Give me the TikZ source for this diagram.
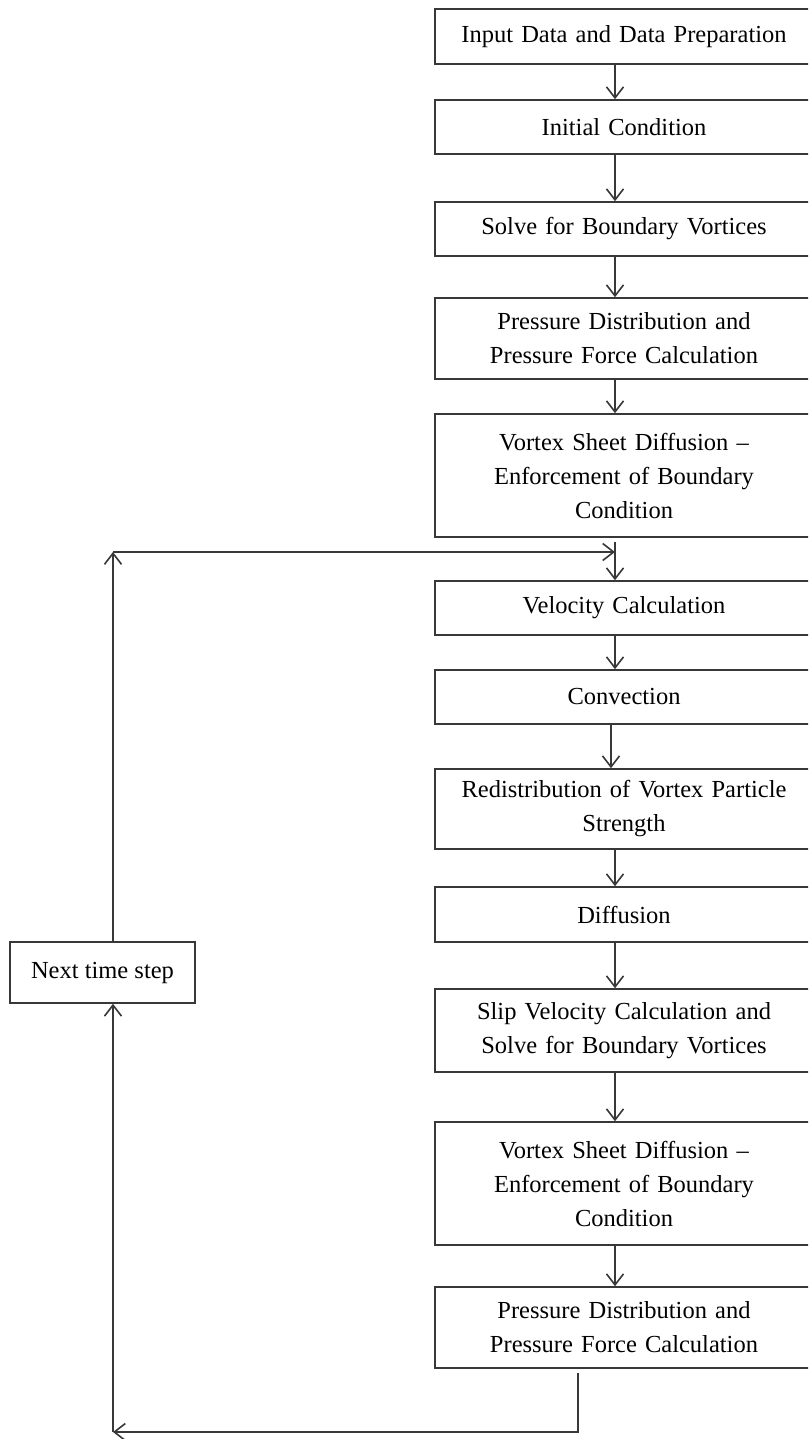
\documentclass[tikz,border=0pt]{standalone}
\usepackage{fontspec}
\setmainfont{Liberation Serif}
\usetikzlibrary{arrows.meta}
\begin{document}
\begin{tikzpicture}[x=1pt,y=-1pt,
  box/.style={draw=black!78, line width=1.6pt, rectangle, inner sep=0pt,
    minimum width=378pt, text width=360pt, align=center,
    font=\fontsize{24.5}{34}\selectfont},
  nbox/.style={draw=black!78, line width=1.6pt, rectangle, inner sep=0pt,
    minimum width=185pt, minimum height=61pt, align=center,
    font=\fontsize{24.5}{34}\selectfont},
  conn/.style={draw=black!78, line width=1.6pt, -{Straight Barb[length=11pt,width=17pt,line width=1.6pt]}},
  plain/.style={draw=black!78, line width=1.6pt}]
\useasboundingbox (0,0) rectangle (808,1439);
\clip (0,0) rectangle (808,1439);
\fill[white] (0,0) rectangle (808,1439);
\node[box, minimum height=55pt] (b1) at (624,36.5) {Input Data and Data Preparation};
\node[box, minimum height=54pt] (b2) at (624,127) {Initial Condition};
\node[box, minimum height=54pt] (b3) at (624,229) {Solve for Boundary Vortices};
\node[box, minimum height=81pt] (b4) at (624,338.5) {Pressure Distribution and\\Pressure Force Calculation};
\node[box, minimum height=123pt] (b5) at (624,475.5) {Vortex Sheet Diffusion --\\Enforcement of Boundary\\Condition};
\node[box, minimum height=54pt] (b6) at (624,608) {Velocity Calculation};
\node[box, minimum height=54pt] (b7) at (624,697) {Convection};
\node[box, minimum height=80pt] (b8) at (624,809) {Redistribution of Vortex Particle\\Strength};
\node[box, minimum height=55pt] (b9) at (624,914.5) {Diffusion};
\node[box, minimum height=83pt] (b10) at (624,1030.5) {Slip Velocity Calculation and\\Solve for Boundary Vortices};
\node[box, minimum height=123pt] (b11) at (624,1183.5) {Vortex Sheet Diffusion --\\Enforcement of Boundary\\Condition};
\node[box, minimum height=81pt] (b12) at (624,1327.5) {Pressure Distribution and\\Pressure Force Calculation};
\node[nbox] (nts) at (102.5,972.5) {Next time step};
\coordinate (loopTop) at (113,552);
\coordinate (loopIn) at (615,552);
\coordinate (loopStart) at (615,542);
\coordinate (outStart) at (578,1373);
\coordinate (loopBot) at (113,1432);
\draw[conn] (b1.south -| 615,0) -- (b2.north -| 615,0);
\draw[conn] (b2.south -| 615,0) -- (b3.north -| 615,0);
\draw[conn] (b3.south -| 615,0) -- (b4.north -| 615,0);
\draw[conn] (b4.south -| 615,0) -- (b5.north -| 615,0);
\draw[conn] (loopStart) -- (b6.north -| 615,0);
\draw[conn] (b6.south -| 615,0) -- (b7.north -| 615,0);
\draw[conn] (b7.south -| 611,0) -- (b8.north -| 611,0);
\draw[conn] (b8.south -| 615,0) -- (b9.north -| 615,0);
\draw[conn] (b9.south -| 615,0) -- (b10.north -| 615,0);
\draw[conn] (b10.south -| 615,0) -- (b11.north -| 615,0);
\draw[conn] (b11.south -| 615,0) -- (b12.north -| 615,0);
\draw[conn] (outStart) |- (loopBot);
\draw[conn] (loopBot) -- (nts.south -| loopBot);
\draw[conn] (nts.north -| loopTop) -- (loopTop);
\draw[conn] (loopTop) -- (loopIn);
\end{tikzpicture}
\end{document}
